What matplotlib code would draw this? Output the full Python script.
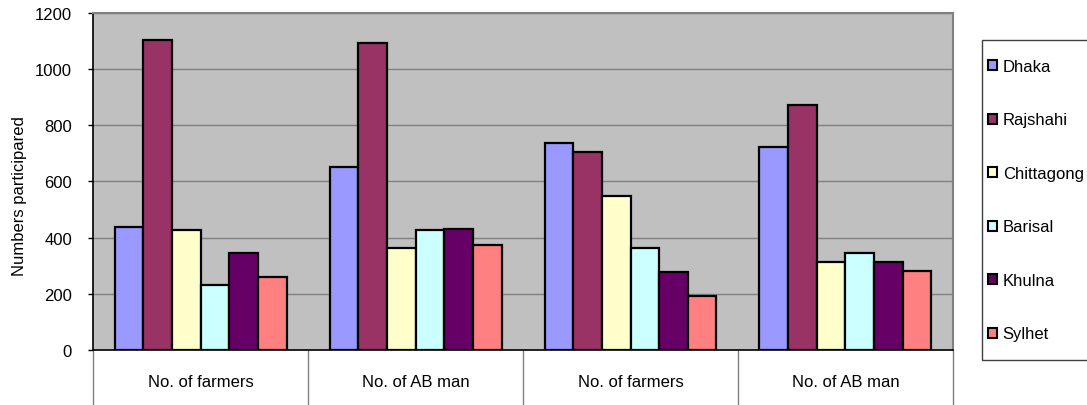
import numpy as np
import matplotlib.pyplot as plt
from matplotlib.patches import Patch, Rectangle

plt.rcParams['font.family'] = ['Liberation Sans', 'DejaVu Sans']
plt.rcParams['font.size'] = 12

categories = ['No. of farmers', 'No. of AB man', 'No. of farmers', 'No. of AB man']
regions = ['Dhaka', 'Rajshahi', 'Chittagong', 'Barisal', 'Khulna', 'Sylhet']
dhaka = [437, 650, 738, 722]
rajshahi = [1105, 1092, 706, 872]
chittagong = [428, 362, 548, 312]
barisal = [231, 427, 362, 345]
khulna = [345, 430, 277, 314]
sylhet = [261, 375, 191, 280]
colors = ['#9999FF', '#993366', '#FFFFCC', '#CCFFFF', '#660066', '#FF8080']

series = [dhaka, rajshahi, chittagong, barisal, khulna, sylhet]

fig = plt.figure(figsize=(10.87, 4.06), dpi=100)
ax = fig.add_axes([0.0856, 0.1355, 0.7911, 0.83])
ax.set_facecolor('#C0C0C0')

x = np.arange(len(categories))
w = 0.8 / len(series)
for i, (vals, c) in enumerate(zip(series, colors)):
    ax.bar(x - 0.4 + w * (i + 0.5), vals, width=w, color=c,
           edgecolor='black', linewidth=1.6, zorder=3)

ax.set_xlim(-0.5, len(categories) - 0.5)
ax.set_ylim(0, 1200)
ax.set_yticks(range(0, 1201, 200))
ax.grid(axis='y', color='#808080', linewidth=1, zorder=1)
ax.tick_params(axis='y', length=3.6, width=1, pad=11.5, labelsize=12)

# category labels under the plot, separated by long tick lines
ax.set_xticks(x)
ax.set_xticklabels(categories)
ax.tick_params(axis='x', which='major', length=0, pad=17, labelsize=12)
ax.set_xticks(np.arange(-0.5, len(categories)), minor=True)
ax.tick_params(axis='x', which='minor', length=42, width=1, color='#808080')

for s in ['top', 'right']:
    ax.spines[s].set_color('#808080')
    ax.spines[s].set_linewidth(1.5)
for s in ['left', 'bottom']:
    ax.spines[s].set_color('black')
    ax.spines[s].set_linewidth(1.2)

ax.set_ylabel('Numbers participared', fontsize=12)
ax.yaxis.set_label_coords(-0.077, 0.46)

# legend box on the right, running off the edge of the figure
W, H = 1087, 406
fig.patches.append(Rectangle((982 / W, 1 - 361 / H), 120 / W, 320 / H,
                             transform=fig.transFigure, facecolor='white',
                             edgecolor='#404040', linewidth=1))
handles = [Patch(facecolor=c, edgecolor='black', linewidth=1.5) for c in colors]
fig.legend(handles, regions, loc='upper left',
           bbox_to_anchor=(988 / W, 1 - 60 / H),
           frameon=False, handlelength=0.55, handleheight=0.55,
           handletextpad=0.33, labelspacing=2.31, borderpad=0,
           borderaxespad=0, fontsize=12)

fig.savefig('out.png', dpi=100)
